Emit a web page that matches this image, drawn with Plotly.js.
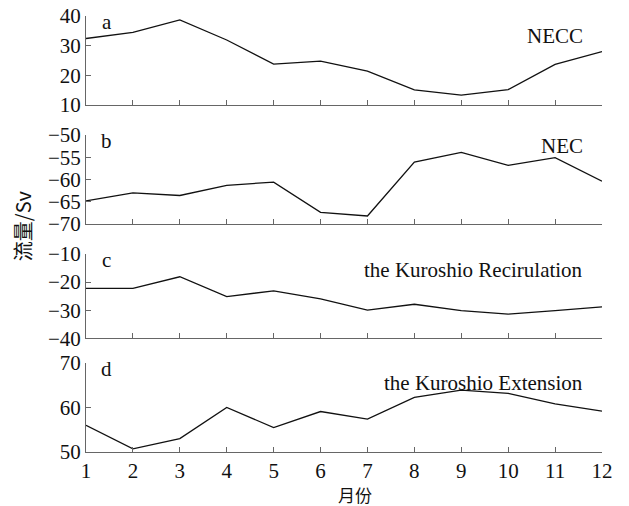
<!DOCTYPE html>
<html>
<head>
<meta charset="utf-8">
<script src="https://cdn.plot.ly/plotly-3.0.1.min.js"></script>
<style>
  html, body { margin: 0; padding: 0; background: #fff; }
  #chart { width: 629px; height: 506px; }
</style>
</head>
<body>
<div id="chart"></div>
<script>
// Monthly transport (Sv) of four currents
const months = [1, 2, 3, 4, 5, 6, 7, 8, 9, 10, 11, 12];
const necc = [32.4, 34.5, 38.7, 31.9, 23.8, 24.8, 21.4, 15.1, 13.3, 15.2, 23.7, 28.0];
const nec = [-64.8, -63.0, -63.6, -61.3, -60.6, -67.4, -68.2, -56.1, -53.9, -56.8, -55.1, -60.4];
const recirculation = [-22.2, -22.2, -18.1, -25.2, -23.1, -26.0, -30.0, -27.9, -30.2, -31.4, -30.2, -28.8];
const extension = [56.0, 50.7, 53.0, 60.0, 55.5, 59.1, 57.4, 62.3, 63.9, 63.2, 60.8, 59.2];

const panelLetters = ['a', 'b', 'c', 'd'];
const panelNames = ['NECC', 'NEC', 'the Kuroshio Recirulation', 'the Kuroshio Extension'];
const xTickLabels = ['1', '2', '3', '4', '5', '6', '7', '8', '9', '10', '11', '12'];
const yRanges = [[10, 40], [-70, -50], [-40, -10], [50, 70]];
const yTicks = [[10, 20, 30, 40], [-70, -65, -60, -55, -50], [-40, -30, -20, -10], [50, 60, 70]];
const xTitle = '月份';
const yTitle = '流量/Sv';

const series = [necc, nec, recirculation, extension];
const domains = [[0.796, 1.0], [0.523, 0.727], [0.261, 0.454], [0.0, 0.204]];

const serif = 'Liberation Serif, Times New Roman, serif';
const cjk = 'Noto Sans CJK SC, ' + serif;
const axisGray = '#666';
const tickSize = 21;

const traces = series.map((vals, i) => ({
  x: months,
  y: vals,
  type: 'scatter',
  mode: 'lines',
  line: { color: '#111', width: 1.3 },
  xaxis: i === 0 ? 'x' : 'x' + (i + 1),
  yaxis: i === 0 ? 'y' : 'y' + (i + 1),
  hoverinfo: 'x+y',
  showlegend: false
}));

const layout = {
  width: 629,
  height: 506,
  margin: { l: 86, r: 27, t: 16, b: 54 },
  paper_bgcolor: '#fff',
  plot_bgcolor: '#fff',
  font: { family: serif, size: tickSize, color: '#111' },
  showlegend: false,
  annotations: []
};

series.forEach((_, i) => {
  const xk = i === 0 ? 'xaxis' : 'xaxis' + (i + 1);
  const yk = i === 0 ? 'yaxis' : 'yaxis' + (i + 1);
  const yref = i === 0 ? 'y' : 'y' + (i + 1);
  layout[xk] = {
    domain: [0, 1],
    anchor: yref,
    range: [1, 12],
    tickvals: months,
    ticktext: xTickLabels,
    showticklabels: i === 3,
    ticks: 'inside',
    ticklen: 5,
    tickcolor: axisGray,
    showline: true,
    linecolor: axisGray,
    linewidth: 1,
    showgrid: false,
    zeroline: false,
    tickfont: { family: serif, size: tickSize, color: '#111' }
  };
  layout[yk] = {
    domain: domains[i],
    anchor: i === 0 ? 'x' : 'x' + (i + 1),
    range: yRanges[i],
    tickvals: yTicks[i],
    ticks: 'inside',
    ticklen: 5,
    tickcolor: axisGray,
    showline: true,
    linecolor: axisGray,
    linewidth: 1,
    showgrid: false,
    zeroline: false,
    tickfont: { family: serif, size: tickSize, color: '#111' }
  };
  // panel letter, top-left
  layout.annotations.push({
    xref: 'paper', yref: 'paper',
    x: 0.0405, y: domains[i][1],
    xanchor: 'center', yanchor: 'middle',
    yshift: -6,
    text: panelLetters[i],
    showarrow: false,
    font: { family: serif, size: 21, color: '#111' }
  });
  // current name, top-right
  const nameShift = [-20, -11, -16, -20][i];
  layout.annotations.push({
    xref: 'paper', yref: 'paper',
    x: 0.9666, y: domains[i][1],
    xanchor: 'right', yanchor: 'middle',
    yshift: nameShift,
    text: panelNames[i],
    showarrow: false,
    font: { family: serif, size: 21, color: '#111' }
  });
});

// shared axis titles
layout.annotations.push({
  xref: 'paper', yref: 'paper',
  x: 0.5, xshift: 11, y: 0, yshift: -42,
  xanchor: 'center', yanchor: 'middle',
  borderpad: 0,
  text: xTitle,
  showarrow: false,
  font: { family: cjk, size: 17, color: '#111' }
});
layout.annotations.push({
  xref: 'paper', yref: 'paper',
  x: 0, xshift: -64, y: 0.518,
  xanchor: 'center', yanchor: 'middle',
  textangle: -90,
  text: yTitle,
  showarrow: false,
  font: { family: cjk, size: 20, color: '#111' }
});

Plotly.newPlot('chart', traces, layout, { displayModeBar: false, staticPlot: true });
</script>
</body>
</html>
